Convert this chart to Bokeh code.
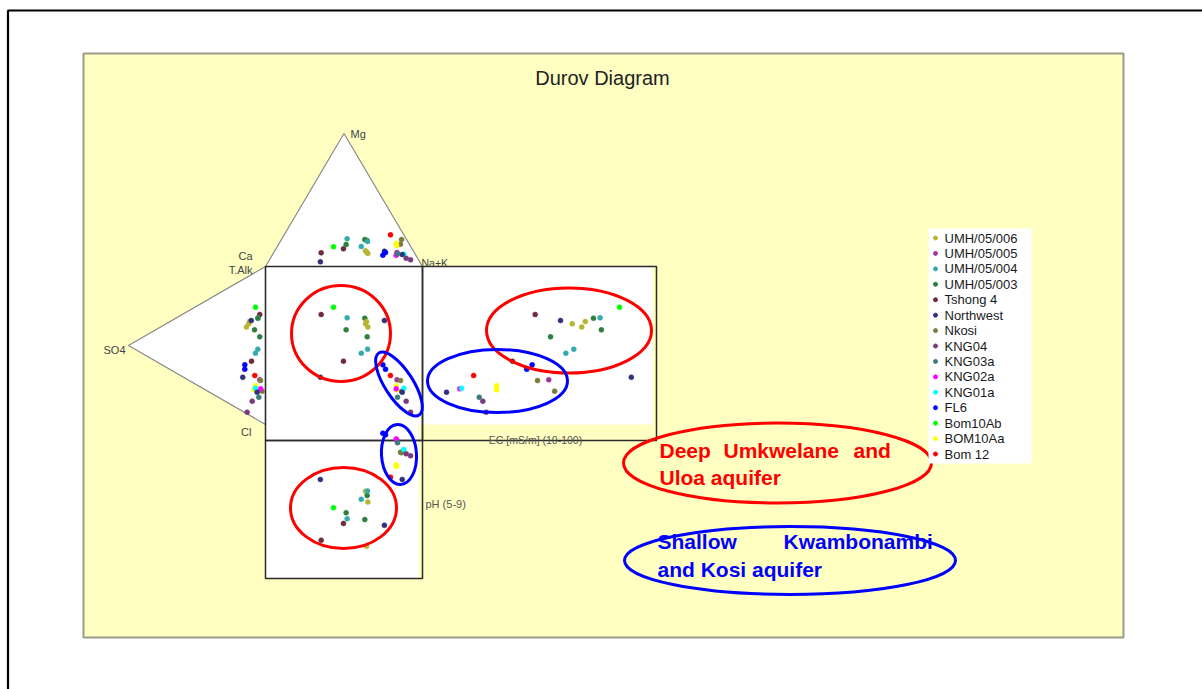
import numpy as np
from bokeh.plotting import figure
from bokeh.models import Range1d, ColumnDataSource
from bokeh.embed import file_html
from bokeh.resources import INLINE
from bokeh.core.properties import value

# ---------------- data ----------------
series = ["UMH/05/006", "UMH/05/005", "UMH/05/004", "UMH/05/003", "Tshong 4",
          "Northwest", "Nkosi", "KNG04", "KNG03a", "KNG02a", "KNG01a", "FL6",
          "Bom10Ab", "BOM10Aa", "Bom 12"]
series_colors = ["#b5b531", "#a136a1", "#34abab", "#2f7f3f", "#6e2b3b",
                 "#31317d", "#7b7b3c", "#7a3a7c", "#3a7b7b", "#ff00ff",
                 "#00ffff", "#0000ff", "#00ff00", "#ffff00", "#ff0000"]

site = ["Tshong 4", "Tshong 4", "Bom10Ab", "UMH/05/004", "UMH/05/003", "UMH/05/003",
        "UMH/05/006", "UMH/05/006", "UMH/05/006", "Northwest", "UMH/05/003",
        "UMH/05/004", "UMH/05/004", "FL6", "FL6", "Bom 12", "UMH/05/005", "Nkosi",
        "Nkosi", "BOM10Aa", "BOM10Aa", "KNG02a", "KNG01a", "Northwest", "KNG03a",
        "KNG04", "KNG04", "Northwest"]
mg_pct = [10.3, 13.3, 14.8, 20.8, 16.5, 20.3, 11.8, 9.8, 10.9, 11.5, 19.5, 18.8, 15.0,
          8.5, 10.5, 23.8, 10.5, 16.8, 20.3, 17.3, 15.8, 8.5, 9.2, 9.0, 9.4, 6.2, 5.0, 3.5]
nak_pct = [30.3, 43.0, 35.9, 41.6, 43.1, 53.1, 57.8, 60.3, 58.9, 70.0, 55.0, 55.6, 53.5,
           70.5, 71.2, 67.7, 78.5, 77.6, 76.5, 74.6, 75.5, 79.0, 83.5, 82.6, 79.4, 86.5,
           89.9, 33.2]
so4_pct = [4.2, 10.2, 7.3, 5.6, 8.0, 5.5, 12.2, 13.9, 11.7, 10.4, 4.2, 5.6, 7.3, 15.1,
           15.1, 7.8, 4.2, 3.6, 2.4, 7.3, 8.2, 3.6, 7.3, 6.1, 4.9, 9.7, 13.4, 16.6]
cl_pct = [28.3, 54.8, 22.1, 29.7, 36.1, 30.0, 30.2, 31.4, 29.0, 29.0, 42.4, 49.5, 51.2,
          54.7, 57.5, 65.1, 69.6, 70.4, 77.7, 71.8, 73.9, 75.6, 73.4, 76.5, 80.3, 80.4,
          85.5, 61.8]
ec_ms_m = [54.1, 45.2, 87.1, 79.5, 80.0, 76.9, 68.6, 72.3, 73.7, 64.0, 60.1, 69.2, 66.1,
           52.9, 50.8, 30.0, 59.4, 55.0, 61.7, 39.0, 39.0, 24.6, 25.3, 19.4, 32.2, 33.6,
           34.9, 91.7]
ph_val = [8.0, 7.56, 7.15, 7.44, 7.28, 7.46, 6.72, 7.0, 8.16, 7.61, 6.83, 6.71, 6.93,
          5.2, 5.24, 6.35, 5.39, 5.70, 5.71, 6.03, 6.07, 5.35, 5.63, 6.41, 5.45, 5.74,
          5.79, 6.41]

# ---------------- layout helpers (diagram units: central square = 0..100) ----------------
SX, SY = 1.57, 1.58
PX0, PY0 = 265.0, 424.0


def U(px):
    return (px - PX0) / SX


def V(py):
    return (PY0 - py) / SY


W, H = 1202, 689
HC = 84.2   # cation triangle height
HA = 87.3   # anion triangle height
EC_U0, EC_U1 = 100.0, U(652)
PH_V0, PH_V1 = V(425), V(578)
EC_MIN, EC_MAX = 10.0, 100.0
PH_MIN, PH_MAX = 5.0, 9.0

mg = np.array(mg_pct)
nak = np.array(nak_pct)
so4 = np.array(so4_pct)
cl = np.array(cl_pct)
ec = np.array(ec_ms_m)
ph = np.array(ph_val)
cmap = dict(zip(series, series_colors))

sq_x = nak + mg / 2.0
sq_y = 100.0 - (cl + so4 / 2.0)
src = ColumnDataSource(dict(
    cx=sq_x, cy=100.0 + mg / 100.0 * HC,
    ax=-so4 / 100.0 * HA, ay=sq_y,
    sx=sq_x, sy=sq_y,
    ex=EC_U0 + (ec - EC_MIN) / (EC_MAX - EC_MIN) * (EC_U1 - EC_U0), ey=sq_y,
    hx=sq_x, hy=PH_V0 + (ph - PH_MIN) / (PH_MAX - PH_MIN) * (PH_V1 - PH_V0),
    c=[cmap[s] for s in site],
))

p = figure(width=W, height=H, output_backend="svg", toolbar_location=None,
           x_range=Range1d(U(0), U(W)), y_range=Range1d(V(H), V(0)),
           x_axis_location=None, y_axis_location=None, min_border=0)
p.grid.visible = False
p.outline_line_color = None
p.background_fill_color = "white"
p.border_fill_color = "white"

FONT = value("Liberation Sans")

# outer document border
p.line(x=[U(7), U(1202)], y=[V(10), V(10)], line_color="black", line_width=2.2)
p.line(x=[U(7.5), U(7.5)], y=[V(10), V(689)], line_color="black", line_width=2.2)

# yellow panel
p.quad(left=[U(83)], right=[U(1123)], top=[V(53)], bottom=[V(637)],
       fill_color="#ffffc2", line_color="#9a9a8a", line_width=2)

# white plotting areas
p.quad(left=[U(265), U(418), U(422)], right=[U(418), U(422), U(652)],
       top=[V(266), V(266), V(266)], bottom=[V(578), V(424), V(424)],
       fill_color="white", line_color=None)

# triangles
p.patch(x=[0, 100, 50], y=[100, 100, 100 + HC], fill_color="white",
        line_color="#8a8a8a", line_width=1.2)
p.patch(x=[0, 0, -HA], y=[100, 0, 50], fill_color="white",
        line_color="#8a8a8a", line_width=1.2)

# frames
p.quad(left=[U(265), U(422), U(265)], right=[U(422), U(656), U(422)],
       top=[V(266), V(266), V(440)], bottom=[V(440), V(440), V(578)],
       fill_color=None, line_color="#2b2b2b", line_width=1.5)

# data points
for xs, ys in [("cx", "cy"), ("ax", "ay"), ("sx", "sy"), ("ex", "ey"), ("hx", "hy")]:
    p.scatter(x=xs, y=ys, source=src, size=5, fill_color="c", line_color="c",
              line_width=0.5)

# ellipses
red = [(340.5, 333, 99, 96, 0), (568.5, 330, 165, 85, 0), (343, 507.5, 106, 81, 0),
       (777, 462.5, 308, 80, 0)]
blue = [(398.5, 383.5, 74, 28, -57), (398.5, 454, 35, 60, 3.5), (497, 380.5, 140, 63, 0),
        (789.5, 560, 331, 68, 0)]
for lst, col in [(red, "#ff0000"), (blue, "#0000ff")]:
    p.ellipse(x=[U(e[0]) for e in lst], y=[V(e[1]) for e in lst],
              width=[e[2] for e in lst], height=[e[3] for e in lst],
              angle=[e[4] for e in lst], angle_units="deg",
              width_units="screen", height_units="screen",
              fill_color=None, line_color=col, line_width=3)


def txt(px, py, s, size, color="#444444", align="left", bold=False):
    p.text(x=[U(px)], y=[V(py)], text=[s], text_font=FONT, text_font_size=f"{size}px",
           text_color=color, text_align=align, text_baseline="middle",
           text_font_style="bold" if bold else "normal")


# title & axis labels
txt(602, 77, "Durov Diagram", 20, "#222222", "center")
txt(350, 133, "Mg", 11)
txt(252, 255, "Ca", 11, align="right")
txt(252, 269, "T.Alk", 11, align="right")
txt(421, 262, "Na+K", 10.5)
txt(125, 349, "SO4", 11, align="right")
txt(251, 431, "Cl", 11, align="right")
txt(535, 439, "EC [mS/m] (10-100)", 10.5, "#555555", "center")
txt(425, 503, "pH (5-9)", 11, "#555555")

# legend
p.quad(left=[U(928)], right=[U(1031)], top=[V(228)], bottom=[V(463)],
       fill_color="white", line_color=None)
ly = [237.5 + i * 15.43 for i in range(len(series))]
p.scatter(x=[U(935)] * len(series), y=[V(v) for v in ly], size=4,
          fill_color=series_colors, line_color=series_colors)
p.text(x=[U(944)] * len(series), y=[V(v) for v in ly], text=series, text_font=FONT,
       text_font_size="13px", text_color="#1a1a1a", text_baseline="middle")

# annotations
txt(659, 450, "Deep", 21, "#ff0000", bold=True)
txt(723, 450, "Umkwelane", 21, "#ff0000", bold=True)
txt(853, 450, "and", 21, "#ff0000", bold=True)
txt(659, 477, "Uloa aquifer", 21, "#ff0000", bold=True)
txt(657, 540.5, "Shallow", 21, "#0000ff", bold=True)
txt(783, 540.5, "Kwambonambi", 21, "#0000ff", bold=True)
txt(657, 568.5, "and Kosi aquifer", 21, "#0000ff", bold=True)

open("out.html", "w").write(file_html(p, INLINE, title="Durov Diagram"))
